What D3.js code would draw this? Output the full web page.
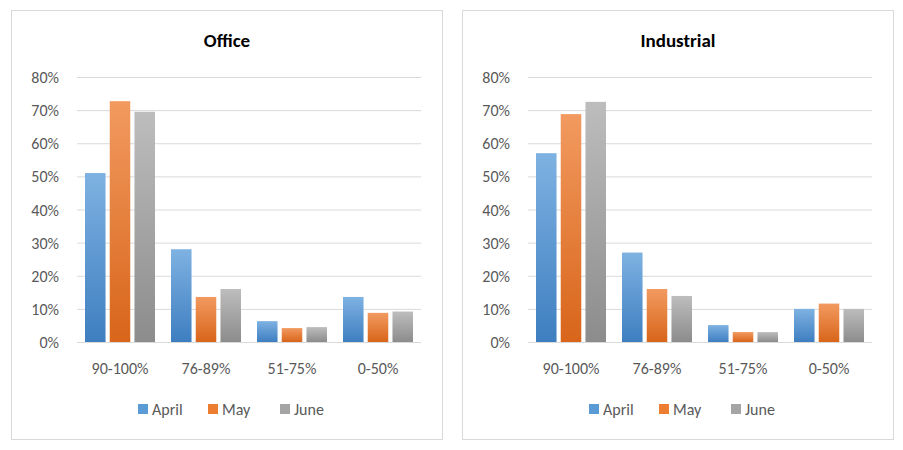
<!DOCTYPE html>
<html><head><meta charset="utf-8">
<script src="https://cdn.jsdelivr.net/npm/d3@7"></script>
<style>body{margin:0;background:#fff;font-family:Calibri,Carlito,"Liberation Sans",Arial,sans-serif}</style>
</head><body><svg id="c" width="903" height="450"></svg>
<script>
const categories=["90-100%","76-89%","51-75%","0-50%"];
const seriesNames=["April","May","June"];
const officeApril=[51,28,6.3,13.6];
const officeMay=[72.7,13.6,4.2,8.8];
const officeJune=[69.5,16,4.5,9.2];
const indApril=[57,27,5.1,10];
const indMay=[68.8,16,3,11.6];
const indJune=[72.5,13.9,3,10];
const yTicks=[0,10,20,30,40,50,60,70,80];
const colors=["#5B9BD5","#ED7D31","#A5A5A5"];
const dark=["#3E7EC0","#D8651A","#8C8C8C"];
const light=["#7EB2E2","#F29A60","#BDBDBD"];
const svg=d3.select("#c");
const defs=svg.append("defs");
colors.forEach((c,i)=>{const g=defs.append("linearGradient").attr("id","g"+i).attr("x1",0).attr("y1",0).attr("x2",0).attr("y2",1);
g.append("stop").attr("offset","0%").attr("stop-color",light[i]);g.append("stop").attr("offset","100%").attr("stop-color",dark[i]);});
function panel(ox,title,data){
  const g=svg.append("g").attr("transform",`translate(${ox},0)`);
  g.append("rect").attr("x",11.5).attr("y",10.5).attr("width",431).attr("height",429).attr("fill","#fff").attr("stroke","#d9d9d9");
  g.append("text").attr("x",227).attr("y",47).attr("text-anchor","middle").attr("font-size",19).attr("font-weight","bold").attr("fill","#000").text(title);
  const y=d3.scaleLinear().domain([0,80]).range([342,77]);
  const x=d3.scaleBand().domain(categories).range([77,421]);
  const xs=d3.scaleBand().domain(seriesNames).range([0,70]).paddingInner(0.17);
  yTicks.forEach(t=>{g.append("line").attr("x1",77).attr("x2",421).attr("y1",y(t)+.5).attr("y2",y(t)+.5).attr("stroke","#d9d9d9");
    g.append("text").attr("x",59).attr("y",y(t)+6).attr("text-anchor","end").attr("font-size",16).attr("fill","#595959").text(t+"%");});
  categories.forEach((c,ci)=>{
    seriesNames.forEach((s,si)=>{const v=data[si][ci];
      g.append("rect").attr("x",x(c)+8+xs(s)).attr("width",xs.bandwidth()).attr("y",y(v)).attr("height",y(0)-y(v)).attr("fill",`url(#g${si})`);});
    g.append("text").attr("x",x(c)+x.bandwidth()/2).attr("y",374).attr("text-anchor","middle").attr("font-size",16).attr("fill","#595959").text(c);
  });
  const lx=[138,208,280];
  seriesNames.forEach((s,i)=>{g.append("rect").attr("x",lx[i]).attr("y",404).attr("width",10).attr("height",10).attr("fill",colors[i]);
    g.append("text").attr("x",lx[i]+14).attr("y",415).attr("font-size",16).attr("fill","#595959").text(s);});
}
panel(0,"Office",[officeApril,officeMay,officeJune]);
panel(451,"Industrial",[indApril,indMay,indJune]);
</script></body></html>
